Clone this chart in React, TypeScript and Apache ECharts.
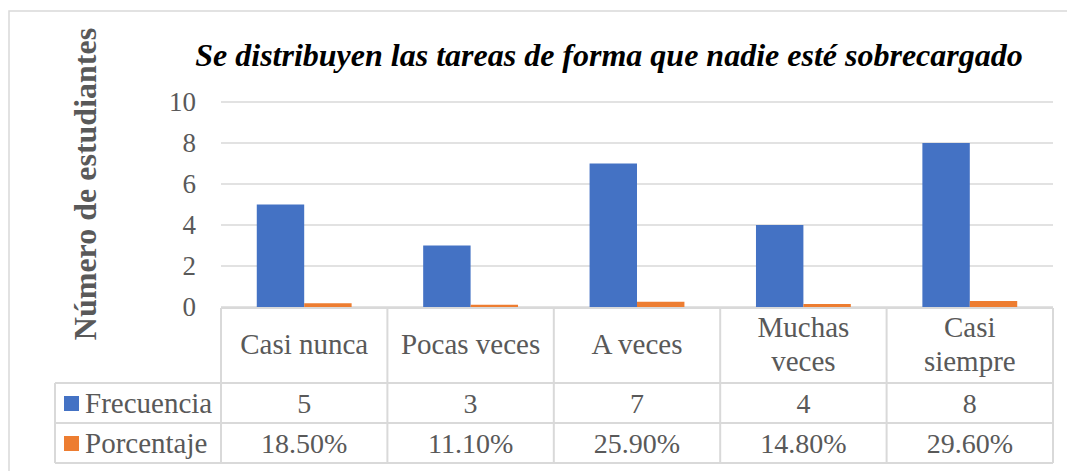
import React, { useEffect, useRef } from "react";
import * as echarts from "echarts";

const categories = ["Casi nunca", "Pocas veces", "A veces", "Muchas veces", "Casi siempre"];
const categoryDisplay = ["Casi nunca", "Pocas veces", "A veces", "Muchas\nveces", "Casi\nsiempre"];
const frecuencia = [5, 3, 7, 4, 8];
const porcentaje = [0.185, 0.111, 0.259, 0.148, 0.296];
const seriesNames = ["Frecuencia", "Porcentaje"];
const yTicks = { min: 0, max: 10, interval: 2 };
const titleText = "Se distribuyen las tareas de forma que nadie esté sobrecargado";
const yAxisTitle = "Número de estudiantes";

const W = 1067;
const H = 471;
const GRID_L = 221;
const GRID_R = 1053;
const GRID_T = 102;
const GRID_B = 307;
const ROW1 = 383;
const ROW2 = 423;
const ROW3 = 463;
const LEG_L = 55;
const FONT = "Times New Roman, Liberation Serif, serif";
const GRAY = "#595959";
const LINE = "#d9d9d9";
const COLORS = ["#4472C4", "#ED7D31"];

export default function App() {
  const ref = useRef<HTMLDivElement>(null);
  useEffect(() => {
    document.body.style.margin = "0";
    const chart = echarts.init(ref.current!, null, { renderer: "svg" });
    const n = categories.length;
    const colW = (GRID_R - GRID_L) / n;
    const graphics: any[] = [];
    const ln = (x1: number, y1: number, x2: number, y2: number) =>
      graphics.push({ type: "line", shape: { x1, y1, x2, y2 }, style: { stroke: LINE, lineWidth: 2 }, silent: true });
    graphics.push({ type: "rect", shape: { x: 9, y: 11, width: W, height: H }, style: { fill: "none", stroke: LINE, lineWidth: 1.5 } });
    ln(GRID_L, GRID_B + 1, GRID_R, GRID_B + 1);
    ln(LEG_L, ROW1, GRID_R, ROW1);
    ln(LEG_L, ROW2, GRID_R, ROW2);
    ln(LEG_L, ROW3, GRID_R, ROW3);
    ln(LEG_L, ROW1, LEG_L, ROW3);
    for (let i = 0; i <= n; i++) {
      const x = GRID_L + colW * i;
      ln(x, GRID_B + 1, x, ROW3);
    }
    const rowsY = [(ROW1 + ROW2) / 2, (ROW2 + ROW3) / 2];
    const txt = (x: number, y: number, text: string, size: number, align: string) => ({
      type: "text", x, y,
      style: { text, fill: GRAY, fontFamily: FONT, fontSize: size, align, verticalAlign: "middle" },
    });
    seriesNames.forEach((name, r) => {
      graphics.push({ type: "rect", shape: { x: 64, y: rowsY[r] - 7, width: 15, height: 15 }, style: { fill: COLORS[r] } });
      graphics.push(txt(85, rowsY[r], name, 29, "left"));
    });
    const rowVals = [frecuencia.map((v) => String(v)), porcentaje.map((v) => (v * 100).toFixed(2) + "%")];
    rowVals.forEach((vals, r) => {
      vals.forEach((t, i) => {
        graphics.push(txt(GRID_L + colW * (i + 0.5), rowsY[r], t, 28, "center"));
      });
    });
    graphics.push({
      type: "text", x: 609, y: 55,
      style: {
        text: titleText, fill: "#000", fontFamily: FONT, fontSize: 32, fontStyle: "italic", fontWeight: "bold",
        align: "center", verticalAlign: "middle",
      },
    });
    graphics.push({
      type: "text", x: 85, y: 184, rotation: Math.PI / 2,
      style: {
        text: yAxisTitle, fill: GRAY, fontFamily: FONT, fontSize: 32, fontWeight: "bold",
        align: "center", verticalAlign: "middle",
      },
    });

    chart.setOption({
      animation: false,
      textStyle: { fontFamily: FONT },
      grid: { left: GRID_L, right: W - GRID_R, top: GRID_T, bottom: H - GRID_B },
      xAxis: {
        type: "category",
        data: categories,
        axisLine: { show: false },
        axisTick: { show: false },
        axisLabel: {
          interval: 0,
          margin: (ROW1 - GRID_B) / 2 - 1,
          verticalAlign: "middle",
          color: GRAY,
          fontFamily: FONT,
          fontSize: 29,
          lineHeight: 34,
          formatter: (_v: string, i: number) => categoryDisplay[i],
        },
      },
      yAxis: {
        type: "value",
        min: yTicks.min,
        max: yTicks.max,
        interval: yTicks.interval,
        axisLine: { show: false },
        axisTick: { show: false },
        axisLabel: { color: GRAY, fontFamily: FONT, fontSize: 27, margin: 25 },
        splitLine: { lineStyle: { color: LINE, width: 1.5 } },
      },
      series: [
        { name: seriesNames[0], type: "bar", data: frecuencia, itemStyle: { color: COLORS[0] }, barGap: "0%", barCategoryGap: "43%" },
        { name: seriesNames[1], type: "bar", data: porcentaje, itemStyle: { color: COLORS[1] } },
      ],
      graphic: graphics,
    });
    return () => chart.dispose();
  }, []);
  return <div ref={ref} style={{ width: W, height: H }} />;
}
